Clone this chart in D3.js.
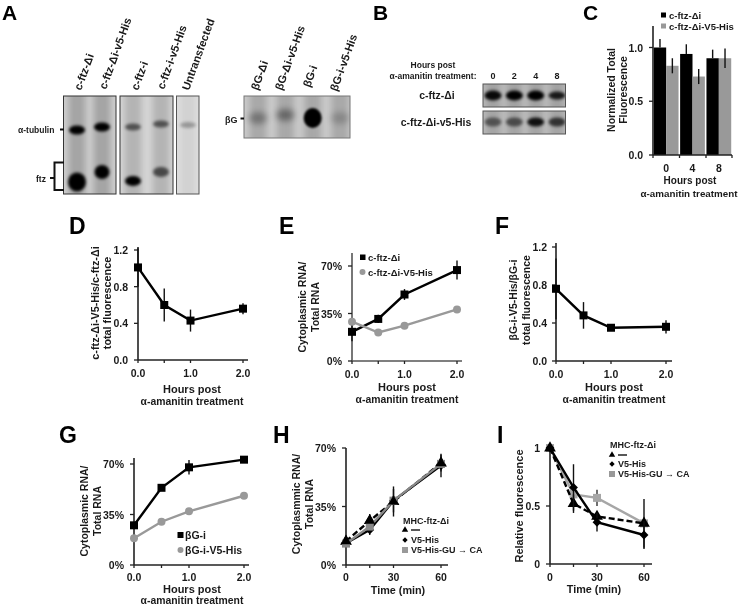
<!DOCTYPE html>
<html><head><meta charset="utf-8">
<script src="https://cdn.jsdelivr.net/npm/d3@7/dist/d3.min.js"></script>
<style>html,body{margin:0;background:#fff}svg{display:block;filter:blur(0.35px)}text{font-family:"Liberation Sans",Arial,sans-serif;font-weight:bold;fill:#1a1a1a}</style>
</head><body><svg id="c" width="740" height="606"></svg>
<script>
// ---- data ----
const hoursC = ["0","4","8"];
const cBlack = [1.0,0.94,0.90];
const cBlackErr = [0.08,0.09,0.08];
const cGray = [0.83,0.73,0.90];
const cGrayErr = [0.07,0.07,0.09];
const hoursX = [0,0.5,1,2];
const timeX = [0,15,30,60];
const dVals = [1.01,0.60,0.43,0.56];
const dErr = [0.21,0.18,0.12,0.06];
const eBlack = [21.5,31,49,67];
const eBlackErr = [7,3,4,7];
const eGray = [29,21,26,38];
const fVals = [0.76,0.48,0.35,0.36];
const fErr = [0.32,0.14,0.03,0.07];
const gBlack = [27.5,53.5,67.7,73];
const gBlackErr = [1,1,5,1];
const gGray = [18.6,30,37.2,48];
const hTri = [14.2,26.5,38,61];
const hTriErr = [1,4,9,5];
const hDia = [13,21,38.5,59.5];
const hDiaErr = [1,3,7,7];
const hSq = [12.8,23,38.5,60.5];
const iTri = [1,0.52,0.41,0.35];
const iTriErr = [0,0.08,0.03,0.21];
const iDia = [1,0.66,0.36,0.25];
const iDiaErr = [0,0.20,0.08,0.12];
const iSq = [1,0.60,0.57,0.35];
const iSqErr = [0,0.03,0.07,0.02];
const gelALanes1 = ["c-ftz-Δi","c-ftz-Δi-v5-His"];
const gelALanes2 = ["c-ftz-i","c-ftz-i-v5-His"];
const gelALanes3 = ["Untransfected"];
const gelBGLanes = ["βG-Δi","βG-Δi-v5-His","βG-i","βG-i-v5-His"];
const tubulin1 = [1,1]; const ftz1 = [1,1];
const tubulin2 = [0.55,0.55];  const ftz2 = [1,0.6];
const tubulin3 = [0.28];
const bgBand = [0.32,0.4,1,0.2];
const hoursB = ["0","2","4","8"];
const bBand1 = [0.95,1,1,0.85];
const bBand2 = [0.5,0.55,0.9,0.7];

// ---- helpers ----
const svg = d3.select("#c");
const defs = svg.append("defs");
[["b1",1],["b15",1.5],["b2",2],["b3",3],["b5",5]].forEach(([id,s])=>{
  defs.append("filter").attr("id",id).attr("x","-60%").attr("y","-60%").attr("width","220%").attr("height","220%")
    .append("feGaussianBlur").attr("stdDeviation",s);
});
function txt(x,y,s,size,anchor,extra){
  const t=svg.append("text").attr("x",x).attr("y",y).attr("font-size",size).attr("text-anchor",anchor||"start").text(s);
  if(extra) t.attr("transform",extra);
  return t;
}
function vtxt(x,y,s,size){ txt(0,0,s,size,"middle",`translate(${x+4},${y}) rotate(-90)`); }
function ln(g,x1,y1,x2,y2,w,c){ g.append("line").attr("x1",x1).attr("y1",y1).attr("x2",x2).attr("y2",y2).attr("stroke",c||"#222").attr("stroke-width",w||1.2); }
function marker(g,type,x,y,color,size){
  const t={square:d3.symbolSquare,circle:d3.symbolCircle,diamond:d3.symbolDiamond2||d3.symbolDiamond,triangle:d3.symbolTriangle}[type];
  g.append("path").attr("d",d3.symbol(t,size)()).attr("transform",`translate(${x},${y})`).attr("fill",color);
}
function axes(o){
  const g=svg.append("g");
  const x=d3.scaleLinear().domain(o.xd).range([o.x0,o.x1]);
  const y=d3.scaleLinear().domain(o.yd).range([o.y0,o.y1]);
  ln(g,o.x0,o.yTop,o.x0,o.y0,o.axisW||1.6,o.axisC);
  ln(g,o.x0,o.y0,o.xEnd,o.y0,o.axisW||1.6,o.axisC);
  o.yt.forEach(v=>{ ln(g,o.x0-4,y(v),o.x0,y(v),1.3); txt(o.ylx,y(v)+4,o.yf(v),o.tf||10.5,"end"); });
  o.xt.forEach(v=>{ ln(g,x(v),o.y0,x(v),o.y0+3,1.3); txt(x(v),o.xly,o.xf(v),o.tf||10.5,"middle"); });
  return {g,x,y};
}
function series(p,xs,ys,errs,st){
  const line=d3.line().x((d,i)=>p.x(xs[i])).y(d=>p.y(d));
  p.g.append("path").attr("d",line(ys)).attr("fill","none").attr("stroke",st.color).attr("stroke-width",st.w||2.4)
    .attr("stroke-dasharray",st.dash||null);
  if(errs) ys.forEach((v,i)=>{ if(errs[i]) ln(p.g,p.x(xs[i]),p.y(v-errs[i]),p.x(xs[i]),p.y(v+errs[i]),1.4,st.errC||"#111"); });
  ys.forEach((v,i)=>marker(p.g,st.type,p.x(xs[i]),p.y(v),st.color,st.size||64));
}
const f1=d=>d.toFixed(1), pct=d=>d+"%", plain=d=>String(d);

// ---- gels ----
function gel(x0,x1,y0,y1,bg,border,lanes,laneW,laneC,bands,clipId){
  defs.append("clipPath").attr("id",clipId).append("rect").attr("x",x0).attr("y",y0).attr("width",x1-x0).attr("height",y1-y0);
  const g=svg.append("g");
  g.append("rect").attr("x",x0).attr("y",y0).attr("width",x1-x0).attr("height",y1-y0).attr("fill",bg);
  const inner=g.append("g").attr("clip-path",`url(#${clipId})`);
  lanes.forEach(lx=>{
    inner.append("rect").attr("x",lx-laneW/2).attr("y",y0-6).attr("width",laneW).attr("height",y1-y0+12)
      .attr("fill",laneC).attr("filter","url(#b3)");
  });
  bands.forEach(b=>{
    inner.append("ellipse").attr("cx",b.x).attr("cy",b.y).attr("rx",b.rx).attr("ry",b.ry)
      .attr("fill","#000").attr("opacity",b.a).attr("filter",`url(#${b.blur||"b15"})`);
  });
  g.append("rect").attr("x",x0).attr("y",y0).attr("width",x1-x0).attr("height",y1-y0).attr("fill","none")
    .attr("stroke",border).attr("stroke-width",1);
}
const laneA1=d3.scalePoint().domain(gelALanes1).range([77,102]);
const laneA2=d3.scalePoint().domain(gelALanes2).range([133,161]);
const laneBG=d3.scalePoint().domain(gelBGLanes).range([258,340]);
const laneB=d3.scalePoint().domain(hoursB).range([493,557]);

gel(63.5,116,96,194,"#cfcfcf","#333",gelALanes1.map(laneA1),17,"#a4a4a4",[
  {x:laneA1(gelALanes1[0]),y:130,rx:8,ry:4.5,a:tubulin1[0]},
  {x:laneA1(gelALanes1[1]),y:127,rx:8,ry:4.5,a:tubulin1[1]},
  {x:laneA1(gelALanes1[0]),y:182,rx:9,ry:9.5,a:ftz1[0]},
  {x:laneA1(gelALanes1[1]),y:172,rx:7.5,ry:7,a:ftz1[1]}
],"ga1");
gel(120,173,96,194,"#d6d6d6","#333",gelALanes2.map(laneA2),17,"#b4b4b4",[
  {x:laneA2(gelALanes2[0]),y:127,rx:8,ry:3.5,a:tubulin2[0]},
  {x:laneA2(gelALanes2[1]),y:124,rx:8,ry:3.5,a:tubulin2[1]},
  {x:laneA2(gelALanes2[0]),y:181,rx:8,ry:5,a:ftz2[0]},
  {x:laneA2(gelALanes2[1]),y:172,rx:8,ry:5,a:ftz2[1]}
],"ga2");
gel(176.5,199,96,194,"#e0e0e0","#555",[188],16,"#d2d2d2",[
  {x:188,y:125,rx:8,ry:3,a:tubulin3[0]}
],"ga3");
gel(244,350,96,138,"#cacaca","#777",gelBGLanes.map(laneBG),17,"#a8a8a8",
  gelBGLanes.map((l,i)=>({x:laneBG(l),y:118-(i==1?3:0),rx:9,ry:i==2?10:6,a:bgBand[i],blur:i==2?"b1":"b3"})),"gbg");
gel(483,565.5,84,107,"#bebebe","#555",hoursB.map(laneB),15,"#a2a2a2",
  hoursB.map((h,i)=>({x:laneB(h),y:95.5,rx:8.5,ry:i==3?4:5,a:bBand1[i]})),"gb1");
gel(483,565.5,111,134,"#c0c0c0","#555",hoursB.map(laneB),15,"#a4a4a4",
  hoursB.map((h,i)=>({x:laneB(h),y:122,rx:8.5,ry:4.5,a:bBand2[i]})),"gb2");

// panel letters
[["A",2,19.5,21],["B",373,19.5,21],["C",583,19.5,21],["D",69,234,23],["E",279,234,23],["F",495,234,23],["G",59,443,23],["H",273,443,23],["I",497,443,23]]
 .forEach(([s,x,y,f])=>txt(x,y,s,f).style("fill","#000"));

// gel labels
const rot=(x,y)=>`translate(${x},${y}) rotate(-70)`;
[[gelALanes1[0],81,91],[gelALanes1[1],106,90],[gelALanes2[0],138,91],[gelALanes2[1],164,90],[gelALanes3[0],189,91],
 [gelBGLanes[0],258,91],[gelBGLanes[1],282,91],[gelBGLanes[2],310,88],[gelBGLanes[3],337,92]]
 .forEach(([s,x,y])=>txt(0,0,s,11.2,"start",rot(x,y)));
const gA=svg.append("g");
txt(18,133,"α-tubulin",8.5);
ln(gA,60,129.5,64,129.5,2,"#111");
txt(36,181.5,"ftz",8.5);
ln(gA,50,178,54,178,2,"#111");
gA.append("path").attr("d","M64,162.5H54.5V190H64").attr("fill","none").attr("stroke","#111").attr("stroke-width",2);
txt(225,123,"βG",9);
ln(gA,240.5,118.5,244,118.5,2,"#111");

txt(433,68,"Hours post",8.5,"middle");
txt(433,79,"α-amanitin treatment:",8.5,"middle");
hoursB.forEach(h=>txt(laneB(h),79,h,9,"middle"));
txt(437,99,gelALanes1[0],10.5,"middle");
txt(436,126,"c-ftz-Δi-v5-His",10.5,"middle");

// ---- C ----
{
  const g=svg.append("g");
  const x0=d3.scaleBand().domain(hoursC).range([653,732]).paddingInner(0.06).paddingOuter(0.03);
  const x1=d3.scaleBand().domain(["a","b"]).range([0,x0.bandwidth()]);
  const y=d3.scaleLinear().domain([0,1]).range([155,47.5]);
  hoursC.forEach((h,i)=>{
    [["a",cBlack,cBlackErr,"#000"],["b",cGray,cGrayErr,"#999"]].forEach(([k,v,e,c])=>{
      g.append("rect").attr("x",x0(h)+x1(k)).attr("width",x1.bandwidth()).attr("y",y(v[i])).attr("height",y(0)-y(v[i])).attr("fill",c);
      const cx=x0(h)+x1(k)+x1.bandwidth()/2;
      ln(g,cx,y(v[i]-(k=="a"?0:e[i])),cx,y(v[i]+e[i]),1.4,"#111");
    });
    txt(x0(h)+x0.bandwidth()/2,172,h,10.5,"middle");
  });
  ln(g,653,26,653,155,1.6); ln(g,653,155,732,155,1.6);
  [0,0.5,1].forEach(v=>{ln(g,649,y(v),653,y(v),1.3);txt(643,y(v)+4,f1(v),10.5,"end");});
  [653,679.5,706,732].forEach(t=>ln(g,t,155,t,158,1.3));
  g.append("rect").attr("x",661).attr("y",12.5).attr("width",5).attr("height",5).attr("fill","#000");
  g.append("rect").attr("x",661).attr("y",23.5).attr("width",5).attr("height",5).attr("fill","#999");
  txt(669,19,"c-ftz-Δi",9.5); txt(669,30,"c-ftz-Δi-V5-His",9.5);
  vtxt(611,90,"Normalized Total",10.5); vtxt(623,90,"Fluorescence",10.5);
  txt(690,184,"Hours post",10,"middle"); txt(689,197,"α-amanitin treatment",9.8,"middle");
}
function hoursLabel(cx,y1,y2){ txt(cx,y1,"Hours post",11,"middle"); txt(cx,y2,"α-amanitin treatment",10.4,"middle"); }

// ---- D ----
{
  const p=axes({xd:[0,2],yd:[0,1.2],x0:138,x1:243,y0:360,y1:250,yTop:247,xEnd:248,yt:[0,0.4,0.8,1.2],xt:[0,1,2],yf:f1,xf:f1,ylx:128,xly:377});
  ln(p.g,p.x(0.5),360,p.x(0.5),363,1.3);
  series(p,hoursX,dVals,dErr,{color:"#000",type:"square"});
  vtxt(95,303,"c-ftz-Δi-V5-His/c-ftz-Δi",10.8); vtxt(107,303,"total fluorescence",10.8);
  hoursLabel(192,393,405);
}
// ---- E ----
{
  const p=axes({xd:[0,2],yd:[0,70],x0:352,x1:457,y0:361,y1:266,yTop:253,xEnd:462,yt:[0,35,70],xt:[0,1,2],yf:pct,xf:f1,ylx:342,xly:378,axisC:"#555"});
  ln(p.g,p.x(0.5),361,p.x(0.5),364,1.3);
  series(p,hoursX,eBlack,eBlackErr,{color:"#000",type:"square"});
  series(p,hoursX,eGray,null,{color:"#999",type:"circle",size:50});
  vtxt(302,307,"Cytoplasmic RNA/",10.5); vtxt(315,307,"Total RNA",10.5);
  hoursLabel(407,391,403);
  p.g.append("rect").attr("x",360).attr("y",254.5).attr("width",5.5).attr("height",5.5).attr("fill","#000");
  marker(p.g,"circle",362.5,272,"#999",28);
  txt(368,261,"c-ftz-Δi",9.5); txt(368,276,"c-ftz-Δi-V5-His",9.5);
}
// ---- F ----
{
  const p=axes({xd:[0,2],yd:[0,1.2],x0:556,x1:666,y0:361,y1:247,yTop:243,xEnd:672,yt:[0,0.4,0.8,1.2],xt:[0,1,2],yf:f1,xf:f1,ylx:547,xly:378});
  ln(p.g,p.x(0.5),361,p.x(0.5),364,1.3);
  series(p,hoursX,fVals,fErr,{color:"#000",type:"square"});
  vtxt(513,300,"βG-i-V5-His/βG-i",10.5); vtxt(526,300,"total fluorescence",10.5);
  hoursLabel(614,391,403);
}
// ---- G ----
{
  const p=axes({xd:[0,2],yd:[0,70],x0:134,x1:244,y0:565,y1:464,yTop:458,xEnd:249,yt:[0,35,70],xt:[0,1,2],yf:pct,xf:f1,ylx:124,xly:581});
  ln(p.g,p.x(0.5),565,p.x(0.5),568,1.3);
  series(p,hoursX,gBlack,gBlackErr,{color:"#000",type:"square"});
  series(p,hoursX,gGray,null,{color:"#999",type:"circle",size:50});
  vtxt(84,511,"Cytoplasmic RNA/",10.5); vtxt(97,511,"Total RNA",10.5);
  hoursLabel(192,593,604);
  p.g.append("rect").attr("x",177.5).attr("y",532).attr("width",6).attr("height",6).attr("fill","#000");
  marker(p.g,"circle",180.5,550,"#999",28);
  txt(185,539,"βG-i",10.5); txt(185,554,"βG-i-V5-His",10.5);
}
// ---- legend for H/I ----
function mhcLegend(g,mx,tx,y0,y1,y2,y3){
  txt(mx-2,y0+3,"MHC-ftz-Δi",9);
  marker(g,"triangle",mx,y1,"#000",18); ln(g,tx,y1,tx+9,y1,1.4,"#111");
  marker(g,"diamond",mx,y2,"#000",18); txt(tx,y2+3,"V5-His",9);
  g.append("rect").attr("x",mx-3).attr("y",y3-3).attr("width",6).attr("height",6).attr("fill","#999");
  txt(tx,y3+3,"V5-His-GU → CA",9);
}
// ---- H ----
{
  const p=axes({xd:[0,60],yd:[0,70],x0:346,x1:441,y0:565,y1:448,yTop:448,xEnd:448,yt:[0,35,70],xt:[0,30,60],yf:pct,xf:plain,ylx:336,xly:581});
  ln(p.g,p.x(15),565,p.x(15),568,1.3);
  series(p,timeX,hTri,hTriErr,{color:"#000",type:"triangle",dash:"6,3",size:60});
  series(p,timeX,hDia,hDiaErr,{color:"#000",type:"diamond",size:50});
  series(p,timeX,hSq,null,{color:"#888",type:"square"});
  hTri.forEach((v,i)=>marker(p.g,"triangle",p.x(timeX[i]),p.y(v),"#000",50));
  vtxt(296,504,"Cytoplasmmic RNA/",10.5); vtxt(309,504,"Total RNA",10.5);
  txt(398,594,"Time (min)",10.8,"middle");
  mhcLegend(p.g,405,411,521,530,540,550);
}
// ---- I ----
{
  const p=axes({xd:[0,60],yd:[0,1],x0:550,x1:644,y0:564,y1:448,yTop:448,xEnd:652,yt:[0,0.5,1],xt:[0,30,60],yf:d=>String(d),xf:plain,ylx:540,xly:581});
  ln(p.g,p.x(15),564,p.x(15),567,1.3);
  series(p,timeX,iSq,iSqErr,{color:"#a6a6a6",type:"square",errC:"#333"});
  series(p,timeX,iTri,iTriErr,{color:"#000",type:"triangle",dash:"6,3",size:60});
  series(p,timeX,iDia,iDiaErr,{color:"#000",type:"diamond",size:50});
  vtxt(519,506,"Relative fluorescence",11);
  txt(594,593,"Time (min)",10.8,"middle");
  mhcLegend(p.g,612,618,445,455,464,474);
}
</script></body></html>
